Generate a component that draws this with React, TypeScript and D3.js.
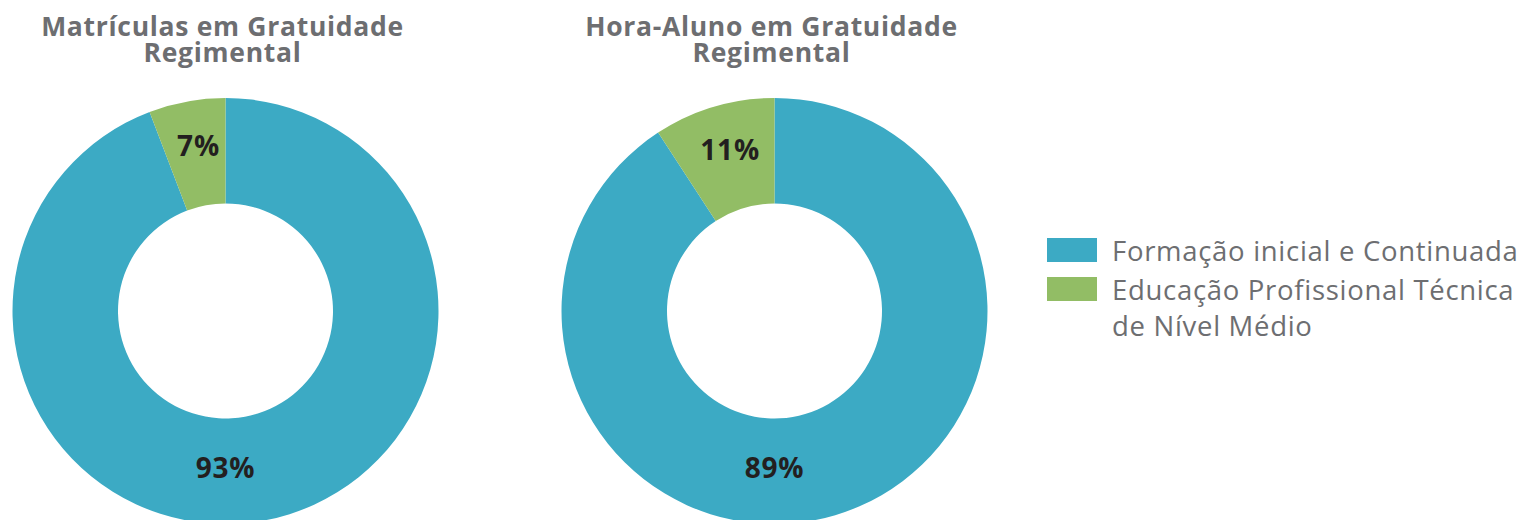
import React from "react";
import * as d3 from "d3";

const categories = ["Formação inicial e Continuada", "Educação Profissional Técnica de Nível Médio"];
const legendLines = [["Formação inicial e Continuada"], ["Educação Profissional Técnica", "de Nível Médio"]];
const colors = ["#3caac4", "#92bd65"];

const chartTitles = [
  ["Matrículas em Gratuidade", "Regimental"],
  ["Hora-Aluno em Gratuidade", "Regimental"],
];
// slice shares as drawn in the picture
const matriculasValues = [94.2, 5.8];
const horaAlunoValues = [90.8, 9.2];
// printed labels
const matriculasLabels = ["93%", "7%"];
const horaAlunoLabels = ["89%", "11%"];

const W = 1526;
const H = 520;
const R = 213;
const r = 107.5;
const cy = 311;
const centers = [225.5, 774.5];
const FONT = "'Open Sans', 'Noto Sans', sans-serif";
const TITLE_COLOR = "#6d6e71";

function Donut({ cx, values, labels, title }: { cx: number; values: number[]; labels: string[]; title: string[] }) {
  const pie = d3.pie<number>().sort(null).value((d) => d);
  const arcs = pie(values);
  const arc = d3.arc<d3.PieArcDatum<number>>().innerRadius(r).outerRadius(R);
  return (
    <g>
      {title.map((t, i) => (
        <text
          key={i}
          x={cx - 3}
          y={36 + i * 26}
          textAnchor="middle"
          fontFamily={FONT}
          fontWeight={700}
          fontSize={26.5}
          letterSpacing={0.7}
          fill={TITLE_COLOR}
        >
          {t}
        </text>
      ))}
      <g transform={`translate(${cx},${cy})`}>
        {arcs.map((a, i) => (
          <path key={i} d={arc(a) || ""} fill={colors[i]} />
        ))}
        {arcs.map((a, i) => {
          let ang: number;
          let rad: number;
          if (a.startAngle <= Math.PI && a.endAngle >= Math.PI) {
            ang = Math.PI;
            rad = 157;
          } else {
            ang = (a.startAngle + a.endAngle) / 2 + 0.02;
            rad = 167;
          }
          const x = Math.sin(ang) * rad;
          const y = -Math.cos(ang) * rad;
          return (
            <text
              key={"l" + i}
              x={x}
              y={y}
              dy="0.36em"
              textAnchor="middle"
              fontFamily={FONT}
              fontWeight={700}
              fontSize={28}
              letterSpacing={0.8}
              fill="#231f20"
            >
              {labels[i]}
            </text>
          );
        })}
      </g>
    </g>
  );
}

export default function App() {
  const legendY = d3.scaleBand<number>().domain([0, 1]).range([238, 316]);
  return (
    <svg width={W} height={H} style={{ position: "absolute", left: 0, top: 0, background: "#fff" }}>
      <Donut cx={centers[0]} values={matriculasValues} labels={matriculasLabels} title={chartTitles[0]} />
      <Donut cx={centers[1]} values={horaAlunoValues} labels={horaAlunoLabels} title={chartTitles[1]} />
      <g>
        {categories.map((c, i) => {
          const y0 = legendY(i) as number;
          return (
            <g key={c}>
              <rect x={1047} y={y0} width={50} height={24} fill={colors[i]} />
              {legendLines[i].map((ln, j) => (
                <text
                  key={j}
                  x={1112}
                  y={y0 + 23 + j * 36}
                  fontFamily={FONT}
                  fontSize={27.5}
                  letterSpacing={0.7}
                  fill={TITLE_COLOR}
                >
                  {ln}
                </text>
              ))}
            </g>
          );
        })}
      </g>
    </svg>
  );
}
